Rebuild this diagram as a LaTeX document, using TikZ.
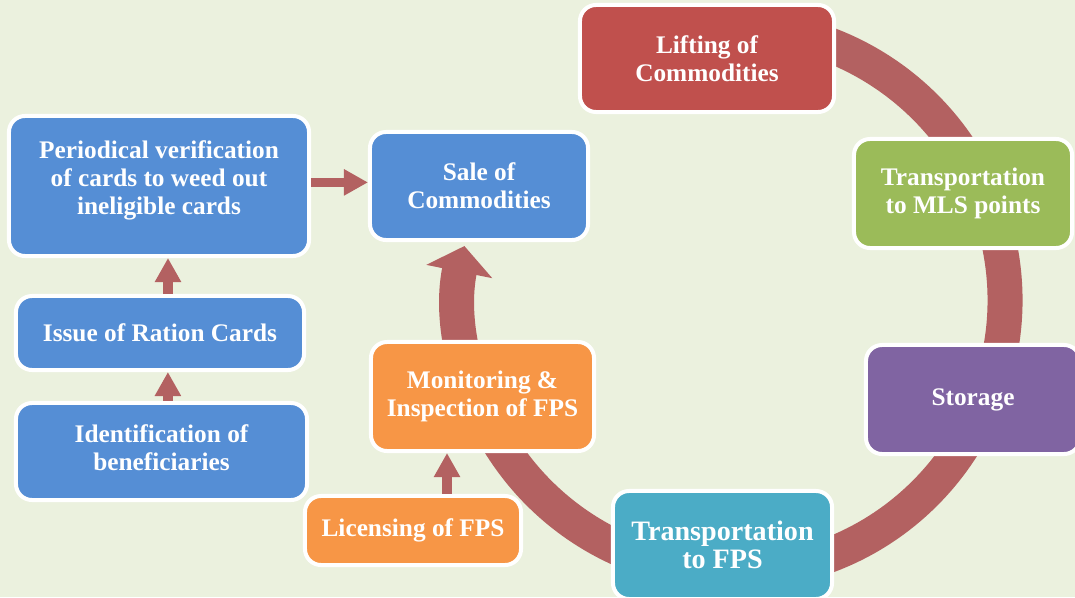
\documentclass[tikz,border=0pt]{standalone}
\usepackage{fontspec}
\setmainfont{Liberation Serif}
\usetikzlibrary{arrows.meta}

\definecolor{bggreen}{RGB}{235,241,222}
\definecolor{cardblue}{RGB}{85,142,213}
\definecolor{liftred}{RGB}{192,80,77}
\definecolor{mlsgreen}{RGB}{155,187,89}
\definecolor{storeviolet}{RGB}{128,100,162}
\definecolor{fpsteal}{RGB}{75,172,198}
\definecolor{fpsorange}{RGB}{247,150,70}
\definecolor{arrowred}{RGB}{179,97,97}

\tikzset{
  box/.style={draw=white, line width=0.1cm, rounded corners=0.4cm, text=white,
    align=center, inner sep=0pt, font=\bfseries\fontsize{18}{20}\selectfont},
  smallarrow/.style={draw=arrowred, line width=0.23cm,
    -{Triangle[length=0.6cm,width=0.62cm]}},
  bigarrow/.style={draw=arrowred, line width=0.875cm,
    -{Triangle[length=0.65cm,width=1.65cm]}}
}

\begin{document}
\begin{tikzpicture}[x=0.025cm,y=-0.025cm]
  \path[use as bounding box, fill=bggreen] (0,0) rectangle (1075,597);
  \clip (0,0) rectangle (1075,597);

  % cycle
  \coordinate (hub) at (732,300);
  \draw[bigarrow] (hub) ++(-100:273) arc[start angle=-100, end angle=191.4, radius=273];

  % boxes of the cycle
  \node[box, fill=liftred, minimum width=6.35cm, minimum height=2.675cm] (lifting) at (707,58.5) {Lifting of\\Commodities};
  \node[box, fill=mlsgreen, minimum width=5.45cm, minimum height=2.725cm] (mls) at (963,193.5) {Transportation\\to MLS points};
  \node[box, fill=storeviolet, minimum width=5.35cm, minimum height=2.725cm] (storage) at (973,399.5) {Storage};
  \node[box, fill=fpsteal, minimum width=5.475cm, minimum height=2.7cm,
    font=\bfseries\fontsize{20}{20}\selectfont] (fps) at (722.5,545) {Transportation\\to FPS};
  \node[box, fill=fpsorange, minimum width=5.575cm, minimum height=2.725cm] (monitor) at (482.5,396.5) {Monitoring \&\\Inspection of FPS};
  \node[box, fill=fpsorange, minimum width=5.4cm, minimum height=1.725cm] (licence) at (413,530.5) {Licensing of FPS};
  \node[box, fill=cardblue, minimum width=5.45cm, minimum height=2.7cm] (sale) at (479,186) {Sale of\\Commodities};

  % ration cards
  \node[box, fill=cardblue, minimum width=7.5cm, minimum height=3.5cm] (verify) at (159,186) {Periodical verification\\of cards to weed out\\ineligible cards\\[-0.3cm]\mbox{}};
  \node[box, fill=cardblue, minimum width=7.2cm, minimum height=1.85cm] (issue) at (160,333) {Issue of Ration Cards};
  \node[box, fill=cardblue, minimum width=7.275cm, minimum height=2.425cm] (ident) at (161.5,451.5) {Identification of\\beneficiaries\\[-0.5cm]\mbox{}};

  % small arrows
  \draw[smallarrow] ([yshift=0.09cm]verify.east) -- ([yshift=0.09cm]verify.east -| sale.west);
  \draw[smallarrow] ([xshift=0.16cm]ident.north) -- ([xshift=0.16cm]ident.north |- issue.south);
  \draw[smallarrow] ([xshift=0.2cm]issue.north) -- ([xshift=0.2cm]issue.north |- verify.south);
  \draw[smallarrow] ([xshift=0.85cm]licence.north) -- ([xshift=0.85cm]licence.north |- monitor.south);
\end{tikzpicture}
\end{document}
